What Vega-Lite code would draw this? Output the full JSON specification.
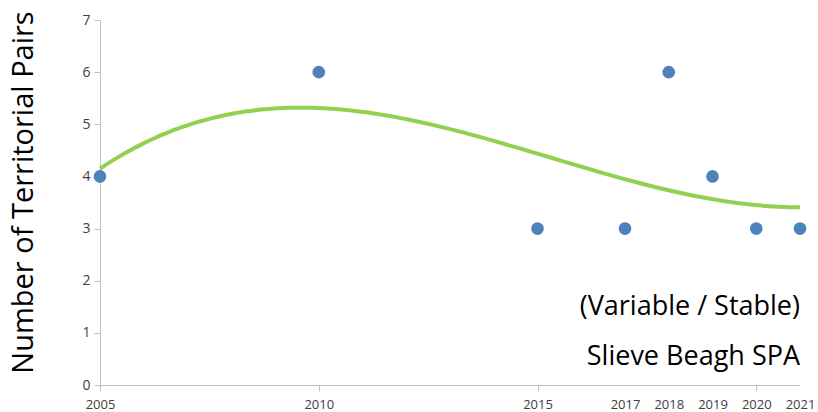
{
  "$schema": "https://vega.github.io/schema/vega-lite/v6.json",
  "width": 700,
  "height": 365,
  "autosize": "none",
  "padding": {"left": 100, "top": 20, "right": 18, "bottom": 27},
  "background": "white",
  "config": {"view": {"stroke": null}, "font": "Open Sans"},
  "data": {"values": [
    {"year": 2005, "pairs": 4},
    {"year": 2010, "pairs": 6},
    {"year": 2015, "pairs": 3},
    {"year": 2017, "pairs": 3},
    {"year": 2018, "pairs": 6},
    {"year": 2019, "pairs": 4},
    {"year": 2020, "pairs": 3},
    {"year": 2021, "pairs": 3}
  ]},
  "layer": [
    {
      "transform": [{"regression": "pairs", "on": "year", "method": "poly", "order": 3, "extent": [2005, 2021]}],
      "mark": {"type": "line", "color": "#92D050", "strokeWidth": 4, "interpolate": "monotone"},
      "encoding": {
        "x": {"field": "year", "type": "quantitative", "scale": {"domain": [2005, 2021], "nice": false},
          "axis": {"values": [2005, 2010, 2015, 2020], "labels": false, "ticks": true, "tickSize": 6, "tickColor": "#BFBFBF", "domainColor": "#BFBFBF", "grid": false, "title": null, "orient": "bottom"}},
        "y": {"field": "pairs", "type": "quantitative", "scale": {"domain": [0, 7], "nice": false},
          "axis": {"values": [0,1,2,3,4,5,6,7], "format": "d", "grid": false, "domainColor": "#BFBFBF", "tickColor": "#BFBFBF", "tickSize": 6, "labelFontSize": 14, "labelColor": "#404040", "labelPadding": 4,
            "title": "Number of Territorial Pairs", "titleFontSize": 29, "titleFontWeight": "normal", "titleColor": "#000000", "titlePadding": 43, "titleY": 172}}
      }
    },
    {
      "mark": {"type": "circle", "size": 160, "color": "#4F81BD", "opacity": 1},
      "encoding": {
        "x": {"field": "year", "type": "quantitative",
          "axis": {"values": [2005, 2010, 2015, 2017, 2018, 2019, 2020, 2021], "format": "d", "ticks": false, "domain": false, "grid": false, "labelFontSize": 13, "labelColor": "#404040", "labelPadding": 13, "labelFlush": false, "title": null, "orient": "bottom"}},
        "y": {"field": "pairs", "type": "quantitative"}
      }
    },
    {
      "data": {"values": [
        {"label": "(Variable / Stable)", "year": 2021, "pairs": 1.5},
        {"label": "Slieve Beagh SPA", "year": 2021, "pairs": 0.54}
      ]},
      "mark": {"type": "text", "align": "right", "baseline": "middle", "fontSize": 27, "color": "#000000"},
      "encoding": {
        "x": {"field": "year", "type": "quantitative", "axis": null},
        "y": {"field": "pairs", "type": "quantitative"},
        "text": {"field": "label"}
      }
    }
  ],
  "resolve": {"axis": {"x": "independent"}}
}
